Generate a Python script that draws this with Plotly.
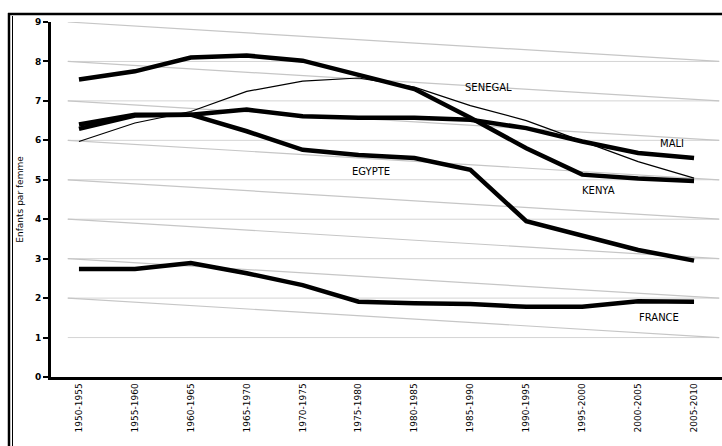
import plotly.graph_objects as go

periods = ["1950-1955", "1955-1960", "1960-1965", "1965-1970", "1970-1975", "1975-1980",
           "1980-1985", "1985-1990", "1990-1995", "1995-2000", "2000-2005", "2005-2010"]

kenya = [7.54, 7.75, 8.10, 8.15, 8.02, 7.66, 7.30, 6.57, 5.80, 5.13, 5.03, 4.97]
mali = [6.40, 6.65, 6.65, 6.78, 6.61, 6.57, 6.57, 6.52, 6.31, 5.97, 5.68, 5.55]
egypte = [6.29, 6.63, 6.65, 6.23, 5.76, 5.63, 5.55, 5.25, 3.95, 3.58, 3.22, 2.95]
senegal = [5.97, 6.44, 6.73, 7.24, 7.50, 7.58, 7.35, 6.88, 6.50, 5.97, 5.46, 5.04]
france = [2.74, 2.74, 2.89, 2.63, 2.33, 1.91, 1.87, 1.85, 1.78, 1.78, 1.92, 1.91]

labels = ["SENEGAL", "MALI", "KENYA", "EGYPTE", "FRANCE"]
label_x = [7.32, 10.6, 9.3, 5.22, 10.38]
label_y = [7.33, 5.93, 4.74, 5.2, 1.5]

y_ticks = list(range(0, 10))

fig = go.Figure()

series = [(kenya, 4.5), (mali, 4.5), (egypte, 4.5), (senegal, 1.2), (france, 4.5)]
names = ["KENYA", "MALI", "EGYPTE", "SENEGAL", "FRANCE"]
for (vals, w), nm in zip(series, names):
    fig.add_trace(go.Scatter(x=list(range(len(periods))), y=vals, mode="lines", name=nm,
                             line=dict(color="black", width=w), showlegend=False,
                             hoverinfo="skip"))

shapes = []
# decorative gridlines: horizontal at 1..8, slanted from k to k-1 (k = 2..9)
for k in range(1, 9):
    shapes.append(dict(type="line", xref="x", yref="y", x0=-0.2, x1=11.45, y0=k, y1=k,
                       line=dict(color="#d4d4d4", width=1), layer="below"))
for k in range(2, 10):
    shapes.append(dict(type="line", xref="x", yref="y", x0=-0.2, x1=11.45, y0=k, y1=k - 1,
                       line=dict(color="#c6c6c6", width=1.2), layer="below"))

W, H = 722, 446
L, R, T = 51, 0, 22
B = H - 377
pw, ph = W - L - R, H - T - B
def px(xw):
    return (xw - L) / pw
def py(yw):
    return (H - B - yw) / ph
shapes.append(dict(type="line", xref="paper", yref="paper", x0=px(8), x1=px(740), y0=py(14), y1=py(14),
                   line=dict(color="black", width=2.5)))
shapes.append(dict(type="line", xref="paper", yref="paper", x0=px(9), x1=px(9), y0=py(13), y1=py(470),
                   line=dict(color="black", width=2.5)))
shapes.append(dict(type="line", xref="paper", yref="paper", x0=px(12.5), x1=px(12.5), y0=py(16), y1=py(470),
                   line=dict(color="black", width=1)))

annotations = []
for t, x, y in zip(labels, label_x, label_y):
    annotations.append(dict(x=x, y=y, xref="x", yref="y", text=t, showarrow=False,
                            font=dict(family="DejaVu Sans", size=10, color="black")))

fig.update_layout(
    width=W, height=H,
    margin=dict(l=L, r=R, t=T, b=B),
    paper_bgcolor="white", plot_bgcolor="white",
    shapes=shapes, annotations=annotations,
    xaxis=dict(
        tickmode="array", tickvals=list(range(len(periods))), ticktext=periods,
        range=[-0.5, 11.5], tickangle=-90,
        tickfont=dict(family="DejaVu Sans", size=9, color="black"),
        showgrid=False, zeroline=False, showline=True, linecolor="black", linewidth=2.5,
        ticks="", fixedrange=True,
    ),
    yaxis=dict(
        range=[0, 9], tickvals=y_ticks, showgrid=False, zeroline=False,
        showline=True, linecolor="black", linewidth=3, ticks="outside", ticklen=5,
        tickwidth=1.5, tickcolor="black", fixedrange=True,
        tickfont=dict(family="DejaVu Sans", size=9, color="black", weight="bold"),
        title=dict(text="Enfants par femme", standoff=10,
                   font=dict(family="DejaVu Sans", size=9, color="black")),
    ),
)

fig.write_html("out.html", config={"displayModeBar": False},
               post_script="document.body.style.margin='0';document.body.style.overflow='hidden';")
